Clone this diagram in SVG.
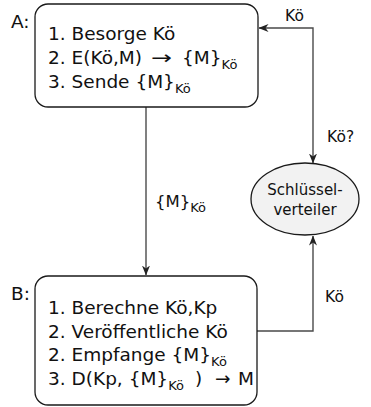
<svg xmlns="http://www.w3.org/2000/svg" width="371" height="407" viewBox="0 0 371 407">
<defs>
<style>
.box{fill:#fff;stroke:#1a1a1a;stroke-width:1.3}
.t{font-family:"DejaVu Sans","Verdana",sans-serif;font-size:18.5px;fill:#111}
.s{font-size:13px}
.lbl{font-family:"DejaVu Sans","Verdana",sans-serif;font-size:15.5px;fill:#111}
.el{font-family:"DejaVu Sans","Verdana",sans-serif;font-size:15px;fill:#111}
.c{fill:none;stroke:#4a4a4a;stroke-width:1.4}
</style>
<marker id="ah" viewBox="0 0 10 8" refX="9.5" refY="4" markerWidth="10" markerHeight="8" markerUnits="userSpaceOnUse" orient="auto-start-reverse">
<path d="M0,0 L10,4 L0,8 L3,4 z" fill="#222"/>
</marker>
</defs>
<g id="connectors">
<path class="c" d="M146,107 V275" marker-end="url(#ah)"/>
<path class="c" d="M313,163 V28 H259" marker-start="url(#ah)" marker-end="url(#ah)"/>
<path class="c" d="M257,331 H313 V236" marker-end="url(#ah)"/>
<text class="lbl" x="285" y="21">Kö</text>
<text class="lbl" x="327" y="142">Kö?</text>
<text class="lbl" x="325" y="302">Kö</text>
<text class="t" x="155" y="207" style="font-size:16.5px">{M}<tspan class="s" dy="5">Kö</tspan></text>
</g>
<g id="nodeA">
<rect class="box" x="35" y="4" width="223" height="103" rx="13"/>
<text class="t" x="11" y="28">A:</text>
<text class="t" x="48" y="40">1. Besorge Kö</text>
<text class="t" x="48" y="64">2. E(Kö,M)</text>
<text class="t" x="151" y="64" textLength="21" lengthAdjust="spacingAndGlyphs">→</text>
<text class="t" x="182" y="64">{M}<tspan class="s" dy="5">Kö</tspan></text>
<text class="t" x="48" y="88">3. Sende {M}<tspan class="s" dy="5">Kö</tspan></text>
</g>
<g id="nodeB">
<rect class="box" x="35" y="276" width="222" height="129" rx="13"/>
<text class="t" x="11" y="300">B:</text>
<text class="t" x="48" y="314">1. Berechne Kö,Kp</text>
<text class="t" x="48" y="338">2. Veröffentliche Kö</text>
<text class="t" x="48" y="361">2. Empfange {M}<tspan class="s" dy="5">Kö</tspan></text>
<text class="t" x="48" y="385">3. D(Kp, {M}<tspan class="s" dy="5">Kö</tspan><tspan x="195" dy="-5">)</tspan></text>
<text class="t" x="215" y="385">→</text>
<text class="t" x="238" y="385">M</text>
</g>
<g id="nodeK">
<ellipse cx="305" cy="199" rx="54" ry="36" fill="#f2f2f2" stroke="#1a1a1a" stroke-width="1.3"/>
<text class="el" x="305" y="195" text-anchor="middle">Schlüssel-</text>
<text class="el" x="305" y="215" text-anchor="middle">verteiler</text>
</g>
</svg>
